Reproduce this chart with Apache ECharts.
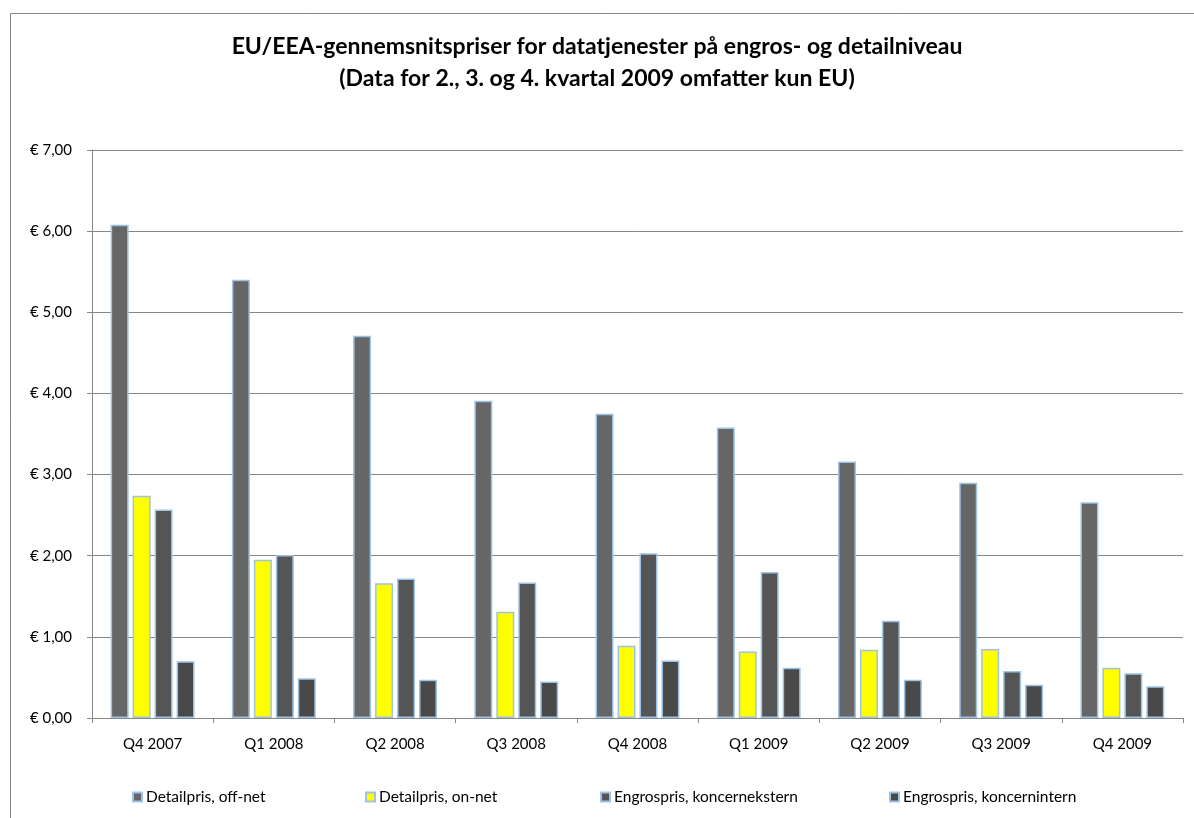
<!DOCTYPE html>
<html>
<head>
<meta charset="utf-8">
<script src="https://cdn.jsdelivr.net/npm/echarts@6/dist/echarts.min.js"></script>
<style>
  html, body { margin: 0; padding: 0; background: #fff; }
  #chart { width: 1194px; height: 818px; }
</style>
</head>
<body>
<div id="chart"></div>
<script>
// kvartaler
const quarters = ['Q4 2007', 'Q1 2008', 'Q2 2008', 'Q3 2008', 'Q4 2008', 'Q1 2009', 'Q2 2009', 'Q3 2009', 'Q4 2009'];
const seriesNames = ['Detailpris, off-net', 'Detailpris, on-net', 'Engrospris, koncernekstern', 'Engrospris, koncernintern'];
const offNet = [6.08, 5.40, 4.71, 3.91, 3.75, 3.58, 3.16, 2.90, 2.66];
const onNet = [2.74, 1.95, 1.66, 1.31, 0.89, 0.82, 0.84, 0.85, 0.62];
const engrosExt = [2.57, 2.01, 1.72, 1.67, 2.03, 1.80, 1.20, 0.58, 0.55];
const engrosInt = [0.70, 0.49, 0.47, 0.45, 0.71, 0.62, 0.47, 0.41, 0.39];
const yTicks = [0, 1, 2, 3, 4, 5, 6, 7];

const colors = ['#666666', '#ffff00', '#555555', '#494949'];
const values = [offNet, onNet, engrosExt, engrosInt];
const legendLeft = [132, 365, 600, 889];
const font = 'Lato, "Open Sans", sans-serif';

const chart = echarts.init(document.getElementById('chart'));

chart.setOption({
  animation: false,
  textStyle: { fontFamily: font },
  title: {
    text: 'EU/EEA-gennemsnitspriser for datatjenester på engros- og detailniveau\n(Data for 2., 3. og 4. kvartal 2009 omfatter kun EU)',
    left: 'center',
    top: 31,
    padding: 0,
    textStyle: { fontSize: 23, fontWeight: 'bold', color: '#000', lineHeight: 32, fontFamily: font }
  },
  graphic: [{
    type: 'rect',
    shape: { x: 10.5, y: 13.5, width: 1300, height: 900 },
    style: { fill: 'none', stroke: '#868686', lineWidth: 1 },
    silent: true
  }],
  legend: seriesNames.map((n, i) => ({
    data: [n],
    left: legendLeft[i],
    top: 789,
    padding: 0,
    itemWidth: 9,
    itemHeight: 9,
    itemGap: 0,
    textStyle: { fontSize: 15.5, color: '#000', fontFamily: font, padding: [0, 0, 0, -1] },
    icon: 'rect'
  })),
  grid: { left: 92, right: 11, top: 150, bottom: 100, containLabel: false },
  xAxis: {
    type: 'category',
    data: quarters,
    axisLine: { lineStyle: { color: '#868686' } },
    axisTick: { show: true, length: 5, lineStyle: { color: '#868686' } },
    axisLabel: { color: '#000', fontSize: 15, margin: 19, fontFamily: font }
  },
  yAxis: {
    type: 'value',
    min: 0,
    max: 7,
    interval: 1,
    axisLine: { show: true, lineStyle: { color: '#868686' } },
    axisTick: { show: true, length: 5, lineStyle: { color: '#868686' } },
    splitLine: { lineStyle: { color: '#868686' } },
    axisLabel: {
      color: '#000', fontSize: 15, margin: 20, fontFamily: font,
      formatter: v => yTicks.includes(v) ? '€ ' + v.toFixed(2).replace('.', ',') : ''
    }
  },
  series: seriesNames.map((n, i) => ({
    name: n,
    type: 'bar',
    data: values[i],
    barWidth: 18,
    barGap: '22%',
    itemStyle: { color: colors[i], borderColor: '#9dc3e6', borderWidth: 1.5 }
  }))
});
</script>
</body>
</html>
